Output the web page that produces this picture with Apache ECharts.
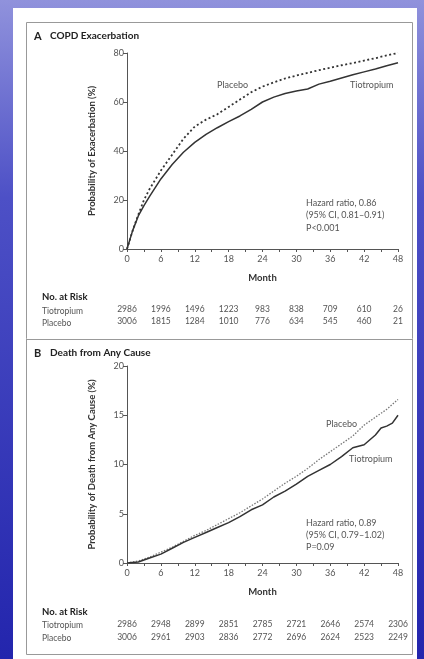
<!DOCTYPE html>
<html><head><meta charset="utf-8">
<script src="https://cdn.jsdelivr.net/npm/echarts@6/dist/echarts.min.js"></script>
<style>html,body{margin:0;padding:0;width:424px;height:659px;overflow:hidden}#c{width:424px;height:659px}</style>
</head><body><div id="c"></div>
<script>
// ---- data ----
const monthTicks = [0, 6, 12, 18, 24, 30, 36, 42, 48];
const monthsA = [0,1,2,3,4,6,8,10,12,14,16,18,20,22,24,26,28,30,32,34,36,38,40,42,44,46,48];
const tiotropiumA = [0,7.5,13.5,17.7,21.5,28.6,34.5,39.5,43.5,46.8,49.5,52,54.3,57,60,62,63.5,64.5,65.3,67.3,68.5,69.8,71.1,72.3,73.5,74.8,76];
const placeboA = [0,7.5,14,20,24.5,32,38.5,45,50,52.8,55,58,61,64,66.3,68,69.6,70.8,71.9,73,74,75,75.9,76.9,77.9,79,80];
const monthsB = [0,2,4,6,8,10,12,14,16,18,20,22,24,26,28,30,32,34,36,38,40,42,44,45,46,47,48];
const tiotropiumB = [0,0.1,0.5,0.9,1.5,2.1,2.6,3.1,3.6,4.1,4.7,5.4,5.9,6.7,7.3,8.0,8.8,9.4,10.0,10.8,11.7,12.0,13.0,13.7,13.9,14.2,15.0];
const placeboB = [0,0.2,0.6,1.1,1.6,2.2,2.8,3.3,3.9,4.5,5.1,5.8,6.5,7.3,8.1,8.8,9.6,10.5,11.3,12.1,12.9,14.0,14.8,15.2,15.6,16.1,16.6];
const riskTioA = [2986,1996,1496,1223,983,838,709,610,26];
const riskPlaA = [3006,1815,1284,1010,776,634,545,460,21];
const riskTioB = [2986,2948,2899,2851,2785,2721,2646,2574,2306];
const riskPlaB = [3006,2961,2903,2836,2772,2696,2624,2523,2249];

const FONT = 'Lato';
const axisCol = '#555';
const txtCol = '#555';
const pair = (xs, ys) => xs.map((x, i) => [x, ys[i]]);

function xAxisMain(gi) {
  return {
    type: 'value', gridIndex: gi, min: 0, max: 48, interval: 3,
    name: 'Month', nameLocation: 'middle', nameGap: 24,
    nameTextStyle: {fontFamily: FONT, fontSize: 9.5, fontWeight: 'bold', color: '#333'},
    axisLine: {lineStyle: {color: axisCol, width: 1}},
    axisTick: {length: 3, lineStyle: {color: axisCol}},
    splitLine: {show: false},
    axisLabel: {fontFamily: FONT, fontSize: 9, color: txtCol, margin: 6,
      formatter: v => (v % 6 === 0 ? String(v) : '')}
  };
}
function riskAxis(gi, arr, offset) {
  return {
    type: 'value', gridIndex: gi, min: 0, max: 48, interval: 6, position: 'bottom', offset: offset,
    axisLine: {show: false}, axisTick: {show: false}, splitLine: {show: false},
    axisLabel: {fontFamily: FONT, fontSize: 8.5, color: txtCol, margin: 0,
      formatter: v => String(arr[monthTicks.indexOf(v)])}
  };
}
function yAxis(gi, max, interval, name, gap) {
  return {
    type: 'value', gridIndex: gi, min: 0, max: max, interval: interval,
    name: name, nameLocation: 'middle', nameGap: gap, nameRotate: 90,
    nameTextStyle: {fontFamily: FONT, fontSize: 9.5, fontWeight: 'bold', color: '#333'},
    axisLine: {show: true, lineStyle: {color: axisCol, width: 1}},
    axisTick: {show: true, length: 4, lineStyle: {color: axisCol}},
    splitLine: {show: false},
    axisLabel: {fontFamily: FONT, fontSize: 9, color: txtCol, margin: 3}
  };
}
function txt(x, y, s, opts) {
  return Object.assign({type: 'text', x: x, y: y, z: 10,
    style: Object.assign({text: s, fill: txtCol, font: '9px ' + FONT, textVerticalAlign: 'middle'}, opts || {})});
}

const chart = echarts.init(document.getElementById('c'), null, {renderer: 'canvas'});
chart.setOption({
  animation: false,
  backgroundColor: 'transparent',
  grid: [
    {left: 127, right: 26, top: 53, bottom: 410},
    {left: 127, right: 26, top: 366, bottom: 96}
  ],
  xAxis: [
    xAxisMain(0), riskAxis(0, riskTioA, 56), riskAxis(0, riskPlaA, 68),
    xAxisMain(1), riskAxis(1, riskTioB, 56.5), riskAxis(1, riskPlaB, 69.5)
  ],
  yAxis: [
    yAxis(0, 80, 20, 'Probability of Exacerbation (%)', 30),
    yAxis(1, 20, 5, 'Probability of Death from Any Cause (%)', 30)
  ],
  graphic: [
    {type: 'rect', z: -20, shape: {x: 0, y: 0, width: 424, height: 659},
     style: {fill: new echarts.graphic.LinearGradient(0, 0, 0, 1, [
       {offset: 0, color: '#9092dc'}, {offset: 0.3, color: '#4d50c6'}, {offset: 1, color: '#2325ad'}])}},
    {type: 'rect', z: -19, shape: {x: 13, y: 8, width: 404, height: 651}, style: {fill: '#fff'}},
    {type: 'rect', z: -18, shape: {x: 26.5, y: 22.5, width: 386, height: 632}, style: {fill: 'none', stroke: '#999', lineWidth: 1}},
    {type: 'line', z: -18, shape: {x1: 26, y1: 339.5, x2: 412.5, y2: 339.5}, style: {stroke: '#999', lineWidth: 1}},
    txt(34, 36, 'A', {font: 'bold 11px ' + FONT, fill: '#222'}),
    txt(50, 36, 'COPD Exacerbation', {font: 'bold 10px ' + FONT, fill: '#222'}),
    txt(34, 353, 'B', {font: 'bold 11px ' + FONT, fill: '#222'}),
    txt(50, 353, 'Death from Any Cause', {font: 'bold 10px ' + FONT, fill: '#222'}),
    txt(217, 85, 'Placebo'), txt(350, 85, 'Tiotropium'),
    txt(306, 203, 'Hazard ratio, 0.86'), txt(306, 215.5, '(95% CI, 0.81\u20130.91)'), txt(306, 228, 'P<0.001'),
    txt(326, 424, 'Placebo'), txt(349, 459, 'Tiotropium'),
    txt(306, 523, 'Hazard ratio, 0.89'), txt(306, 535, '(95% CI, 0.79\u20131.02)'), txt(306, 547, 'P=0.09'),
    txt(42, 297, 'No. at Risk', {font: 'bold 9.5px ' + FONT, fill: '#222'}),
    txt(42, 311, 'Tiotropium', {font: '8.5px ' + FONT}), txt(42, 323, 'Placebo', {font: '8.5px ' + FONT}),
    txt(42, 612, 'No. at Risk', {font: 'bold 9.5px ' + FONT, fill: '#222'}),
    txt(42, 625, 'Tiotropium', {font: '8.5px ' + FONT}), txt(42, 638, 'Placebo', {font: '8.5px ' + FONT})
  ],
  series: [
    {type: 'line', xAxisIndex: 0, yAxisIndex: 0, showSymbol: false, data: pair(monthsA, placeboA),
     lineStyle: {color: '#333', width: 1.8, type: [2, 2.5]}},
    {type: 'line', xAxisIndex: 0, yAxisIndex: 0, showSymbol: false, data: pair(monthsA, tiotropiumA),
     lineStyle: {color: '#333', width: 1.5}},
    {type: 'line', xAxisIndex: 3, yAxisIndex: 1, showSymbol: false, data: pair(monthsB, placeboB),
     lineStyle: {color: '#777', width: 1.3, type: [1.5, 1.5]}},
    {type: 'line', xAxisIndex: 3, yAxisIndex: 1, showSymbol: false, data: pair(monthsB, tiotropiumB),
     lineStyle: {color: '#333', width: 1.5}}
  ]
});
</script></body></html>
